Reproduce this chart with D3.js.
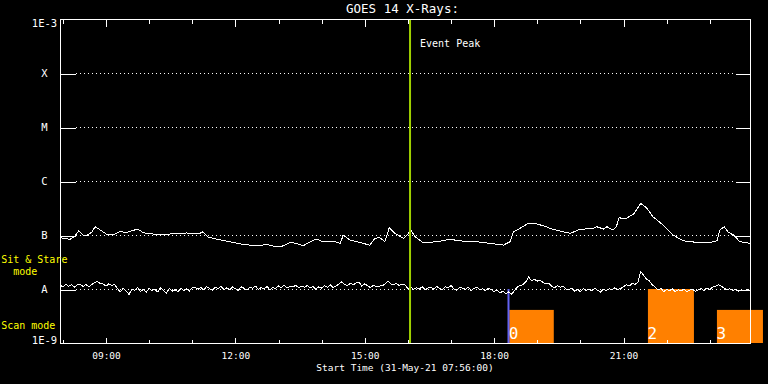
<!DOCTYPE html>
<html>
<head>
<meta charset="utf-8">
<script src="https://cdn.jsdelivr.net/npm/d3@7"></script>
<style>
  body { margin: 0; background: #000; }
  svg { display: block; background: #000; }
  text { font-family: "DejaVu Sans Mono", monospace; fill: #fff; }
</style>
</head>
<body>
<svg width="768" height="384"></svg>
<script>
// Plot window (31-May-21)
var startTime = "31-May-21 07:56";
var endTime = "31-May-21 23:56";
var eventPeak = "31-May-21 16:03";
var pointingTime = "31-May-21 18:20";

// GOES long channel (1-8 A), flux in 1e-8 W/m^2
var longTimes = ["07:56","08:10","08:17","08:22","08:28","08:33","08:40","08:45","08:52","09:01",
                 "09:10","09:19","09:29","09:44","09:52","10:06","10:20","10:34","10:52","11:11",
                 "11:14","11:22","11:39","11:57","12:11","12:30","12:44","12:57","13:07","13:16",
                 "13:25","13:34","13:44","13:53","14:02","14:16","14:26","14:30","14:39","14:49",
                 "15:07","15:14","15:21","15:28","15:34","15:42","15:54","16:00","16:04","16:10",
                 "16:21","16:40","16:58","17:17","17:36","17:54","18:13","18:22","18:27","18:36",
                 "18:48","18:55","19:08","19:22","19:46","19:59","20:18","20:23","20:32","20:37",
                 "20:45","20:50","20:54","21:02","21:14","21:24","21:32","21:41","21:55","22:09",
                 "22:23","22:42","23:00","23:10","23:14","23:20","23:26","23:33","23:42","23:56"];
var longFlux = [8.9, 8.3, 9.6, 11.9, 10, 9.7, 11.2, 14.2, 12.4, 10.3,
                10, 11.5, 11.2, 12.9, 11.0, 10.4, 10.1, 10.6, 10.9, 10.7,
                11.5, 9.2, 8.1, 7.3, 6.7, 6.3, 6.7, 6.0, 6.3, 7.3,
                7.0, 6.3, 7.5, 8.4, 7.5, 7.7, 7.0, 10, 8.1, 7.5,
                6.5, 8.7, 8.9, 7.5, 13.6, 10.7, 8.7, 10.3, 12.4, 9.3,
                7.2, 7.5, 8.3, 7.7, 7.5, 7.0, 6.5, 7.5, 11.5, 13.3,
                16.5, 16.5, 14.9, 12.7, 10.7, 12.7, 13.3, 14.2, 12.9, 14.2,
                12.4, 14.2, 20.9, 19.8, 24.2, 38.6, 32.0, 21.8, 15.3, 10,
                7.8, 7.3, 7.2, 7.8, 12.4, 14.2, 11.2, 10, 7.5, 7.0];

// GOES short channel (0.5-4 A), flux in 1e-9 W/m^2, one sample every 4 minutes from 07:56
var shortStep = 4;
var shortFlux = [11.8, 10.9, 12.3, 11.2, 12.0, 10.8, 11.9, 12.4, 11.1, 12.2, 11.0, 12.1,
                 13.2, 13.8, 12.6,
                 12.4, 11.3, 12.5, 11.6, 12.2,
                 10.1, 8.9, 10.3, 9.2, 7.9, 10.0, 9.4, 10.6, 9.0, 9.8, 8.6, 10.4, 9.3, 9.9,
                 8.8, 10.7, 9.5, 8.4, 10.2, 9.1, 9.7, 8.9, 10.3, 9.4, 10.0, 9.2, 10.5,
                 10.8, 9.9, 10.6, 9.6, 11.1, 10.2, 9.5, 10.9, 10.0, 11.2, 9.8, 10.5, 9.7, 10.9,
                 10.1, 9.4, 11.0, 10.3, 9.6, 10.8, 10.4, 11.3, 9.9, 10.6, 10.0, 11.1, 9.7, 10.7,
                 10.2, 11.4, 10.5, 11.8, 10.4, 11.2,
                 10.9, 11.7, 10.6, 11.3, 10.8, 11.6, 10.5, 11.2, 9.9, 11.0, 10.4, 11.5, 10.7, 11.9,
                 10.6, 11.3, 12.4, 13.6, 12.1, 11.5, 12.8, 11.9, 13.1, 13.4, 11.2, 12.6, 11.4, 10.6,
                 11.8, 10.9, 11.3, 11.5, 12.2, 14.0, 12.5, 11.9, 12.7, 11.6, 12.3, 11.8,
                 10.2, 10.9, 9.8, 10.6, 10.0, 11.1, 9.6, 10.4, 10.9, 9.9, 11.3, 10.2, 9.7, 11.0,
                 10.5, 11.6, 10.1, 9.5, 10.8, 10.3, 9.9, 10.7, 9.4, 10.2, 10.8, 9.6, 10.1, 9.3,
                 10.4, 9.8,
                 8.9, 9.6, 8.4, 9.1, 8.2, 8.8, 8.0, 9.2, 10.8, 11.6,
                 12.0, 13.5, 16.8,
                 14.2, 15.1, 14.0, 14.6, 13.2, 12.4, 12.9,
                 11.3, 10.6, 11.5, 10.8, 11.2, 9.9,
                 9.6, 10.4, 9.1, 9.9, 8.9, 10.2, 9.4, 10.0, 9.2, 10.3, 9.5, 8.8, 9.9, 9.3,
                 10.1, 9.6, 10.5, 9.8, 10.2,
                 11.0, 12.1, 11.4, 12.6, 12.2, 13.4,
                 21.0,
                 18.0, 15.2, 14.1,
                 12.0, 10.8, 9.6, 10.2, 9.0, 9.8, 9.3, 10.1, 8.9, 9.7, 9.2, 10.0, 8.8, 9.5,
                 9.9, 9.1, 9.6, 10.2, 9.4, 10.5, 9.7, 10.8, 11.2, 12.0, 11.3, 10.4, 9.6, 10.1,
                 9.3, 9.8, 9.0, 9.6, 9.2, 9.9, 9.4];

// Y axis levels
var yTickValues = [1e-3, 1e-4, 1e-5, 1e-6, 1e-7, 1e-8, 1e-9];
var yTickLabels = ["1E-3", "X", "M", "C", "B", "A", "1E-9"];
var classValues = [1e-4, 1e-5, 1e-6, 1e-7, 1e-8];

// Observation blocks
var blockIds = ["0", "2", "3"];
var blockStarts = ["31-May-21 18:21", "31-May-21 21:34", "31-May-21 23:10"];
var blockEnds = ["31-May-21 19:23", "31-May-21 22:38", "01-Jun-21 00:14"];
var blockTops = [4.1e-9, 1e-8, 4.1e-9];

(function() {
    var parseTime = d3.timeParse("%d-%b-%y %H:%M");
    var t0 = parseTime(startTime);

    var svg = d3.select("svg");
    var margin = {top: 19, right: 18, bottom: 41, left: 60};
    var width = +svg.attr("width") - margin.left - margin.right;
    var height = +svg.attr("height") - margin.top - margin.bottom;
    var g = svg.append("g").attr("transform", "translate(" + margin.left + "," + margin.top + ")");

    var x = d3.scaleTime().domain([t0, parseTime(endTime)]).range([0, width]);
    var y = d3.scaleLog().domain([1e-9, 1e-3]).range([height, 0]);

    var longData = longTimes.map(function(t, i) {
        return {t: parseTime("31-May-21 " + t), v: longFlux[i] * 1e-8};
    });
    var shortData = shortFlux.map(function(v, i) {
        return {t: d3.timeMinute.offset(t0, i * shortStep), v: v * 1e-9};
    });

    //Dotted class lines
    g.selectAll(".grid")
        .data(classValues)
      .enter().append("line")
        .attr("class", "grid")
        .attr("x1", 16).attr("x2", width - 15)
        .attr("y1", function(d) { return Math.round(y(d)) + 0.5; })
        .attr("y2", function(d) { return Math.round(y(d)) + 0.5; })
        .attr("stroke", "#fff")
        .attr("stroke-dasharray", "1,3");

    //Observation blocks
    g.selectAll(".block")
        .data(blockIds)
      .enter().append("rect")
        .attr("class", "block")
        .attr("x", function(d, i) { return x(parseTime(blockStarts[i])); })
        .attr("y", function(d, i) { return y(blockTops[i]); })
        .attr("width", function(d, i) { return x(parseTime(blockEnds[i])) - x(parseTime(blockStarts[i])); })
        .attr("height", function(d, i) { return height - y(blockTops[i]); })
        .attr("fill", "#ff8000");

    //Pointing marker
    g.append("line")
        .attr("x1", x(parseTime(pointingTime))).attr("x2", x(parseTime(pointingTime)))
        .attr("y1", y(1e-8)).attr("y2", height)
        .attr("stroke", "#6262f2")
        .attr("stroke-width", 2);

    //Flux curves
    var line = d3.line()
        .x(function(d) { return x(d.t); })
        .y(function(d) { return y(d.v); });

    g.append("path").datum(shortData)
        .attr("d", line)
        .attr("fill", "none")
        .attr("stroke", "#fff")
        .attr("shape-rendering", "crispEdges");

    g.append("path").datum(longData)
        .attr("d", line)
        .attr("fill", "none")
        .attr("stroke", "#fff")
        .attr("shape-rendering", "crispEdges");

    //Event peak
    g.append("line")
        .attr("x1", x(parseTime(eventPeak))).attr("x2", x(parseTime(eventPeak)))
        .attr("y1", 0).attr("y2", height)
        .attr("stroke", "#9fd000")
        .attr("stroke-width", 2);

    g.append("text")
        .attr("x", x(parseTime(eventPeak)) + 10)
        .attr("y", 27.7)
        .style("font-size", "10px")
        .text("Event Peak");

    //Block labels
    g.selectAll(".block-label")
        .data(blockIds)
      .enter().append("text")
        .attr("class", "block-label")
        .attr("x", function(d, i) { return x(parseTime(blockStarts[i])) - 0.5; })
        .attr("y", height - 3.7)
        .style("font-size", "16px")
        .text(function(d) { return d; });

    //Frame
    g.append("rect")
        .attr("x", 0.5).attr("y", 0.5)
        .attr("width", width).attr("height", height)
        .attr("fill", "none")
        .attr("stroke", "#fff")
        .attr("shape-rendering", "crispEdges");

    var hours = d3.timeHour.every(1).range(t0, parseTime(endTime));
    var majorHours = hours.filter(function(d) { return d.getHours() % 3 === 0; });

    function cleanAxis(sel) {
        sel.attr("color", "#fff").attr("font-family", null).attr("font-size", null);
        sel.select(".domain").remove();
        sel.selectAll(".tick line").attr("shape-rendering", "crispEdges");
    }

    //X Axis (ticks inside, top and bottom)
    g.append("g")
        .attr("class", "axis axis--x")
        .attr("transform", "translate(0," + (height + 0.5) + ")")
        .call(d3.axisBottom(x).tickValues(majorHours).tickSizeInner(-6).tickSizeOuter(0)
            .tickPadding(9).tickFormat(d3.timeFormat("%H:%M")))
        .call(cleanAxis)
        .selectAll("text").style("font-size", "9.5px");

    g.append("g")
        .attr("transform", "translate(0," + (height + 0.5) + ")")
        .call(d3.axisBottom(x).tickValues(hours).tickSizeInner(-3.5).tickSizeOuter(0).tickFormat(""))
        .call(cleanAxis);

    g.append("g")
        .attr("transform", "translate(0,0.5)")
        .call(d3.axisTop(x).tickValues(majorHours).tickSizeInner(-7).tickSizeOuter(0).tickFormat(""))
        .call(cleanAxis);

    g.append("g")
        .attr("transform", "translate(0,0.5)")
        .call(d3.axisTop(x).tickValues(hours).tickSizeInner(-4).tickSizeOuter(0).tickFormat(""))
        .call(cleanAxis);

    //Y Axis class ticks, left and right
    g.append("g")
        .attr("transform", "translate(0.5,0.5)")
        .call(d3.axisLeft(y).tickValues(classValues).tickSizeInner(-15).tickSizeOuter(0).tickFormat(""))
        .call(cleanAxis);

    g.append("g")
        .attr("transform", "translate(" + (width + 0.5) + ",0.5)")
        .call(d3.axisRight(y).tickValues(classValues).tickSizeInner(-15).tickSizeOuter(0).tickFormat(""))
        .call(cleanAxis);

    g.selectAll(".ylabel")
        .data(yTickValues)
      .enter().append("text")
        .attr("class", "ylabel")
        .attr("x", -15.5)
        .attr("y", function(d) { return y(d); })
        .attr("dy", function(d, i) {
            if (i === 0) return "0.76em";
            if (i === yTickValues.length - 1) return "0.05em";
            return "0.37em";
        })
        .attr("text-anchor", "middle")
        .style("font-size", "10.5px")
        .text(function(d, i) { return yTickLabels[i]; });

    //Titles
    svg.append("text")
        .attr("x", 402.5)
        .attr("y", 13.3)
        .attr("text-anchor", "middle")
        .style("font-size", "12.5px")
        .text("GOES 14 X-Rays:");

    svg.append("text")
        .attr("x", 405)
        .attr("y", 371.3)
        .attr("text-anchor", "middle")
        .style("font-size", "9.5px")
        .text("Start Time (" + startTime + ":00)");

    //Mode labels
    svg.append("text").attr("x", 1.2).attr("y", 263.3)
        .style("font-size", "10px").style("fill", "#ffff00").text("Sit & Stare");
    svg.append("text").attr("x", 13.2).attr("y", 274.5)
        .style("font-size", "10px").style("fill", "#ffff00").text("mode");
    svg.append("text").attr("x", 1.2).attr("y", 328.5)
        .style("font-size", "10px").style("fill", "#ffff00").text("Scan mode");
})();
</script>
</body>
</html>
